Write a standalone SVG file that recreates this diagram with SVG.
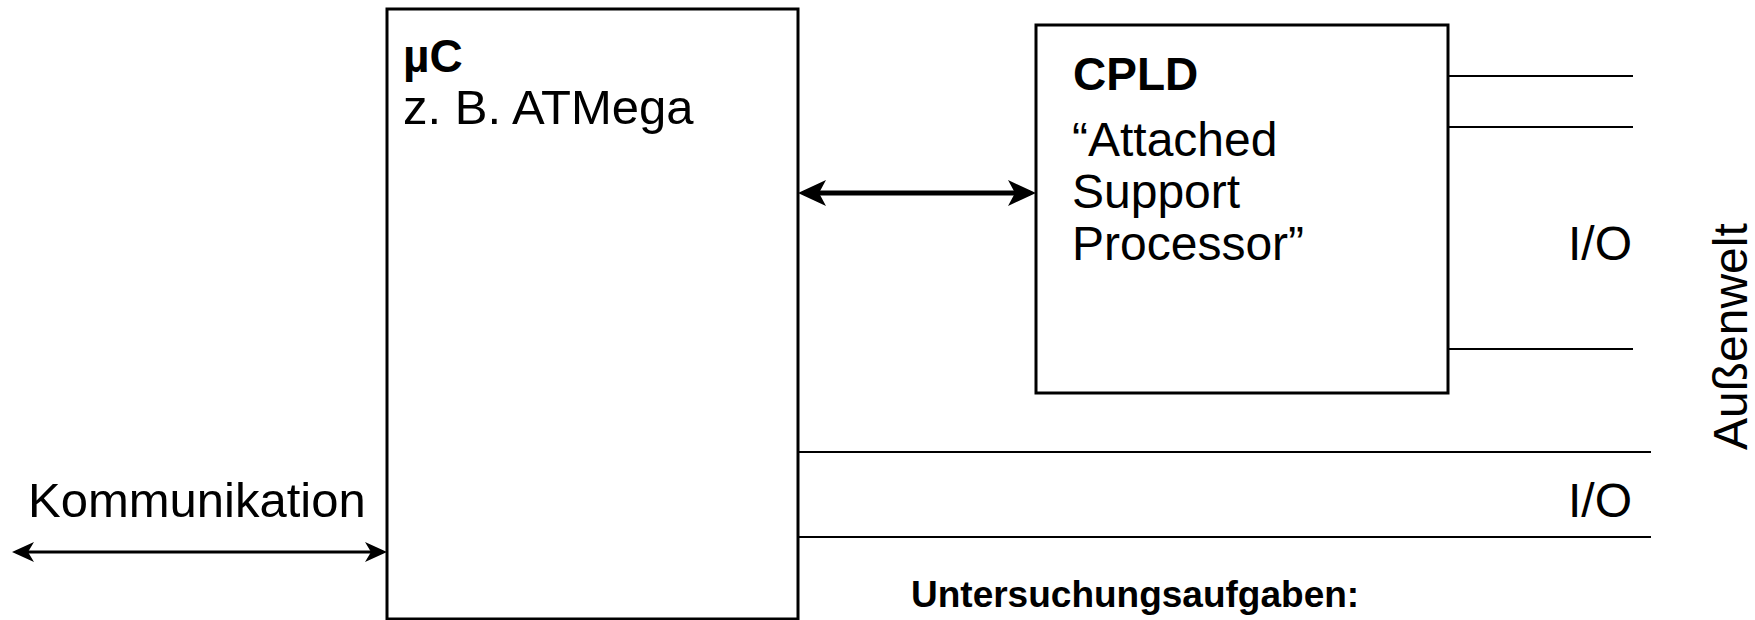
<svg xmlns="http://www.w3.org/2000/svg" width="1755" height="620" viewBox="0 0 1755 620">
<style>
  text { font-family: "Liberation Sans", Arial, sans-serif; fill: #000; }
  .t { font-size: 48px; }
  .t2 { font-size: 49px; }
  .b { font-size: 46px; font-weight: bold; }
  .hb { font-size: 37px; font-weight: bold; }
  .box { fill: #fff; stroke: #000; stroke-width: 3; }
  .wire { stroke: #000; stroke-width: 2; fill: none; }
  .big { stroke: #000; stroke-width: 5; fill: none; }
  .small { stroke: #000; stroke-width: 3; fill: none; }
</style>
<defs>
  <marker id="ahBig" viewBox="0 0 28 26" refX="22" refY="13" markerWidth="28" markerHeight="26" markerUnits="userSpaceOnUse" orient="auto-start-reverse">
    <path d="M28,13 L0,0 L7,13 L0,26 Z" fill="#000"/>
  </marker>
  <marker id="ahSmall" viewBox="0 0 22 20" refX="18" refY="10" markerWidth="22" markerHeight="20" markerUnits="userSpaceOnUse" orient="auto-start-reverse">
    <path d="M22,10 L0,0 L6,10 L0,20 Z" fill="#000"/>
  </marker>
</defs>
<rect width="1755" height="620" fill="#fff"/>

<g id="connectors">
  <line class="big" x1="804" y1="193" x2="1030" y2="193" marker-start="url(#ahBig)" marker-end="url(#ahBig)"/>
  <line class="small" x1="16" y1="552" x2="383" y2="552" marker-start="url(#ahSmall)" marker-end="url(#ahSmall)"/>
  <line class="wire" x1="1448" y1="76" x2="1633" y2="76"/>
  <line class="wire" x1="1448" y1="127" x2="1633" y2="127"/>
  <line class="wire" x1="1448" y1="349" x2="1633" y2="349"/>
  <line class="wire" x1="798" y1="452" x2="1651" y2="452"/>
  <line class="wire" x1="798" y1="537" x2="1651" y2="537"/>
</g>

<g id="mc">
  <rect class="box" x="387" y="9" width="411" height="610"/>
  <text class="b" x="403" y="72">µC</text>
  <text class="t2" x="403" y="124">z. B. ATMega</text>
</g>

<g id="cpld">
  <rect class="box" x="1036" y="25" width="412" height="368"/>
  <text class="b" x="1073" y="90">CPLD</text>
  <text class="t" x="1072" y="156">“Attached</text>
  <text class="t" x="1072" y="208">Support</text>
  <text class="t" x="1072" y="260">Processor”</text>
</g>

<g id="io-top"><text class="t" x="1568" y="260">I/O</text></g>
<g id="io-bottom"><text class="t" x="1568" y="517">I/O</text></g>
<g id="kommunikation"><text class="t2" x="28" y="517">Kommunikation</text></g>
<g id="aussenwelt"><text class="t" transform="translate(1747,450) rotate(-90)">Außenwelt</text></g>
<g id="aufgaben"><text class="hb" x="911" y="607">Untersuchungsaufgaben:</text></g>
</svg>
